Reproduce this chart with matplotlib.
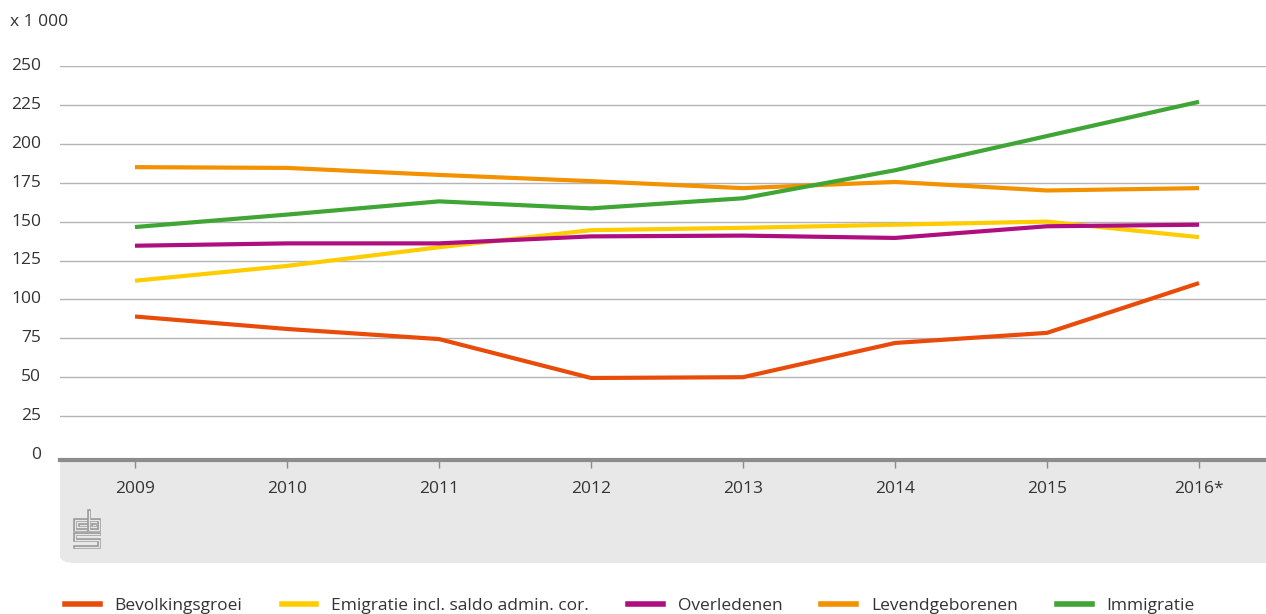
import matplotlib
matplotlib.use("Agg")
import matplotlib.pyplot as plt
from matplotlib.patches import FancyBboxPatch, Rectangle
from matplotlib.lines import Line2D

plt.rcParams['font.family'] = ['Open Sans', 'DejaVu Sans']

years = ["2009", "2010", "2011", "2012", "2013", "2014", "2015", "2016*"]
bevolkingsgroei = [89, 81, 74.5, 49.5, 50, 72, 78.5, 110.5]
emigratie = [112, 121.5, 133.5, 144.5, 146, 148, 150, 140]
overledenen = [134.5, 136, 136, 140.5, 141, 139.5, 147, 148]
levendgeborenen = [185, 184.5, 180, 176, 171.5, 175.5, 170, 171.5]
immigratie = [146.5, 154.5, 163, 158.5, 165, 183, 205, 227]

series = [
    ("Bevolkingsgroei", bevolkingsgroei, "#e94c0a"),
    ("Emigratie incl. saldo admin. cor.", emigratie, "#ffcc00"),
    ("Overledenen", overledenen, "#af0e80"),
    ("Levendgeborenen", levendgeborenen, "#f39200"),
    ("Immigratie", immigratie, "#3fa535"),
]

W, H = 1266, 614
fig = plt.figure(figsize=(W / 100, H / 100), dpi=100)

def fx(px):
    return px / W

def fy(py):
    return 1 - py / H

PANEL = "#e8e8e8"
# grey panel under the axis (rounded bottom-left, square top)
panel = FancyBboxPatch((fx(60), fy(563)), fx(1266) - fx(60) + 0.02, fy(460) - fy(563),
                       boxstyle="round,pad=0,rounding_size=0.012",
                       transform=fig.transFigure, facecolor=PANEL,
                       edgecolor="none", zorder=-2)
fig.add_artist(panel)
fig.add_artist(Rectangle((fx(60), fy(500)), fx(1266) - fx(60) + 0.02, fy(460) - fy(500),
                         transform=fig.transFigure, facecolor=PANEL, edgecolor="none",
                         zorder=-2))

ax = fig.add_axes([fx(60), fy(460), fx(1266) - fx(60), fy(66) - fy(460)])
ax.set_facecolor("none")
x = list(range(len(years)))
for name, vals, col in series:
    ax.plot(x, vals, color=col, lw=3, label=name, solid_capstyle="butt", zorder=3)

ymin = -5 / 1.556
ax.set_ylim(ymin, 250)
ax.set_xlim(-75 / 152, 7 + 67 / 152)
ax.set_yticks([0, 25, 50, 75, 100, 125, 150, 175, 200, 225, 250])
ax.set_xticks(x)
ax.set_xticklabels(years)
for yv in range(25, 251, 25):
    ax.axhline(yv, color="#b4b4b4", lw=1.0, zorder=1)
for s in ["top", "right", "left"]:
    ax.spines[s].set_visible(False)
ax.spines["bottom"].set_color("#8c8c8c")
ax.spines["bottom"].set_linewidth(3)
ax.tick_params(axis="y", length=0, pad=13.5, labelsize=12.5, labelcolor="#333333")
ax.tick_params(axis="x", length=6, width=1, color="#8c8c8c", pad=9,
               labelsize=12.5, labelcolor="#333333")
for lab in ax.get_yticklabels():
    lab.set_verticalalignment("center")

fig.text(fx(10), fy(22), "x 1 000", fontsize=12.5, color="#333333", va="center", ha="left")

# CBS logo (approximation)
def logo_line(xs, ys):
    fig.add_artist(Line2D([fx(v) for v in xs], [fy(v) for v in ys], color="#9a9a9a",
                          lw=2.6, transform=fig.transFigure, solid_joinstyle="miter", zorder=2))
    fig.add_artist(Line2D([fx(v) for v in xs], [fy(v) for v in ys], color=PANEL,
                          lw=0.9, transform=fig.transFigure, solid_joinstyle="miter", zorder=3))

logo_line([86, 75, 75, 86], [520, 520, 530, 530])
logo_line([86, 80], [525, 525])
logo_line([89, 89, 99, 99, 89], [511, 530, 530, 520, 520])
logo_line([93, 95], [525, 525])
logo_line([99, 75, 75, 99, 99, 75], [534, 534, 540, 540, 547, 547])

handles = [Line2D([], [], color=c, lw=4) for _, _, c in series]
labels = [n for n, _, _ in series]
fig.legend(handles, labels, loc="center left", bbox_to_anchor=(fx(65), fy(606)),
           ncol=5, frameon=False, fontsize=12.5, handlelength=2.0, handletextpad=0.86,
           columnspacing=2.25, borderpad=0, borderaxespad=0, labelcolor="#333333")

fig.savefig("out.png", dpi=100)
